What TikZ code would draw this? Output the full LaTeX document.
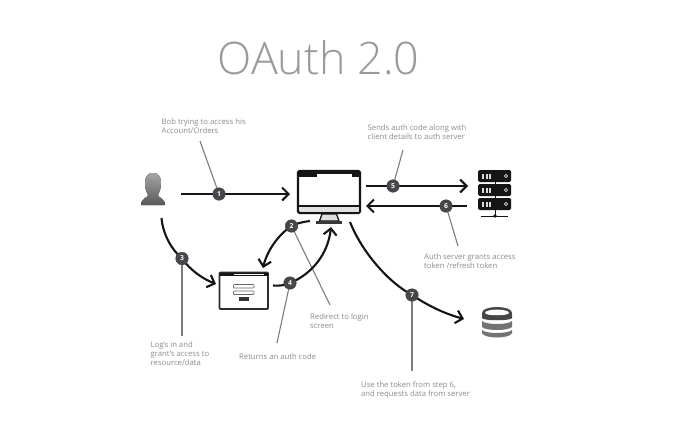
\documentclass[tikz,border=0pt]{standalone}
\usepackage{fontspec}
\setmainfont{Open Sans}
\newfontfamily\titlefont{Open Sans Light}
\usetikzlibrary{arrows.meta,calc}
\definecolor{ink}{HTML}{151515}
\definecolor{badge}{HTML}{45474A}
\definecolor{leader}{HTML}{7D7D7D}
\definecolor{label}{HTML}{8C8C8C}
\definecolor{titlegray}{HTML}{9A9A9A}
\tikzset{
  x=1pt,y=-1pt,
  flow/.style={draw=ink,line width=2.1pt,-{Straight Barb[length=6.5pt,width=13pt,line width=2.1pt]}},
  flowplain/.style={draw=ink,line width=2.1pt},
  leaderline/.style={draw=leader,line width=1.1pt},
  badgenode/.style={circle,fill=badge,draw=ink!80,line width=.5pt,minimum size=12.5pt,inner sep=0pt,text=white,font=\bfseries\fontsize{6.8}{7}\selectfont},
  caption/.style={anchor=north west,align=left,inner sep=0pt,text=label,font=\fontsize{7.7}{9.3}\selectfont},
  anchorpt/.style={inner sep=0pt,minimum size=0pt},
}
\begin{document}
\begin{tikzpicture}
\useasboundingbox (0,0) rectangle (675,434);
\fill[white] (0,0) rectangle (675,434);

\node[text=titlegray,font=\titlefont\fontsize{44.8}{47}\selectfont,inner sep=0pt] (title) at (318.5,58) {OAuth 2.0};

% person
\node[anchorpt,minimum width=26pt,minimum height=34pt] (person) at (153,189) {};
\fill[top color=gray!70,bottom color=black!65] (153,173) .. controls (146,173) and (144.5,179) .. (145,185) .. controls (145.5,190) and (147,193) .. (148,195) .. controls (148,198) and (141,198) .. (141,205) -- (165,205) .. controls (165,198) and (158,198) .. (158,195) .. controls (159,193) and (160.5,190) .. (161,185) .. controls (161.5,179) and (160,173) .. (153,173) -- cycle;

% monitor
\node[anchorpt,minimum width=64pt,minimum height=53pt] (monitor) at (329,196) {};
\filldraw[fill=white,draw=ink,line width=2.2pt,rounded corners=1.5pt] (298,171) rectangle (360,213);
\fill[ink] (298,171) rectangle (360,176.5);
\fill[white] (317,174) rectangle (352,176.6);
\fill[ink] (298,204.5) rectangle (360,207);
\fill[black!12] (299.5,207) rectangle (358.5,211.5);
\filldraw[fill=black!12,draw=ink,line width=1.3pt] (322,214) -- (319.5,221) -- (339,221) -- (336.5,214) -- cycle;
\draw[ink!85,line width=2.4pt] (316,222.5) -- (342,222.5);

% server
\node[anchorpt,minimum width=34pt,minimum height=48pt] (server) at (495,192) {};
\draw[ink,line width=.9pt] (495,182) -- (495,216);
\foreach \yy in {170,184,198}{
  \fill[ink,rounded corners=1.5pt] (478,\yy) rectangle (511,\yy+12);
  \foreach \xx in {482,485.5,489}{\fill[white!85!black] (\xx,\yy+3.5) rectangle +(2,5);}
  \draw[white!85!black,line width=.7pt] (506,\yy+6) circle (1.6pt);
}
\draw[ink,line width=.8pt] (481,216) -- (508,216);
\fill[ink] (495,216) circle (1.8pt);

% login window
\node[anchorpt,minimum width=49pt,minimum height=37pt] (login) at (243.5,290.5) {};
\filldraw[fill=white,draw=ink!90,line width=1.8pt,rounded corners=.8pt] (219.5,272.5) rectangle (268,309);
\fill[ink] (219.5,272.5) rectangle (268,276);
\fill[white] (234,273.6) rectangle (264,275.4);
\draw[black!60,line width=.6pt,rounded corners=.8pt] (233.5,284.5) rectangle (254,288);
\draw[black!60,line width=.6pt,rounded corners=.8pt] (233.5,291) rectangle (254,294.5);
\fill[black!80] (239,297) rectangle (248.5,300.5);

% database
\node[anchorpt,minimum width=30pt,minimum height=30pt] (db) at (497,322) {};
\fill[black!72] (482,313) .. controls (482,305) and (512,305) .. (512,313) -- (512,318) .. controls (512,321) and (482,321) .. (482,318) -- cycle;
\fill[white] (485,313) .. controls (485,308.5) and (509,308.5) .. (509,313) .. controls (509,316) and (485,316) .. (485,313) -- cycle;
\fill[black!55] (482,321) .. controls (486,325) and (508,325) .. (512,321) -- (512,327) .. controls (508,331) and (486,331) .. (482,327) -- cycle;
\fill[black!55] (482,330) .. controls (486,334) and (508,334) .. (512,330) -- (512,333) .. controls (510,339) and (484,339) .. (482,333) -- cycle;

% badge positions
\coordinate (b1) at (219,194);
\coordinate (b2) at (291.5,226);
\coordinate (b3) at (182,258.5);
\coordinate (b4) at (290,283);
\coordinate (b5) at (393,186);
\coordinate (b6) at (446,206);
\coordinate (b7) at (412,295);

% connector ends
\coordinate (s1) at (181,194);
\coordinate (e1) at (290,194);
\coordinate (s2) at (310,221);
\coordinate (e2) at (263,268);
\coordinate (s3) at (161.5,218);
\coordinate (e3) at (216,284);
\coordinate (s4) at (273,285.5);
\coordinate (e4) at (331,227);
\coordinate (s5) at (366,186);
\coordinate (e5) at (468,186);
\coordinate (s6) at (467,206);
\coordinate (e6) at (366,206);
\coordinate (s7) at (350,222);
\coordinate (e7) at (464,319);
\coordinate (l1) at (200,141);
\coordinate (l2) at (330,305);
\coordinate (l3) at (182,336);
\coordinate (l4) at (277,343);
\coordinate (l5) at (403,150);
\coordinate (l6) at (458,246);
\coordinate (l7) at (412,371);

% leaders
\draw[leaderline] (l1) -- (b1);
\draw[leaderline] (l2) -- (b2);
\draw[leaderline] (l3) -- (b3);
\draw[leaderline] (l4) -- (b4);
\draw[leaderline] (l5) -- (b5);
\draw[leaderline] (l6) -- (b6);
\draw[leaderline] (l7) -- (b7);

% flows
\draw[flow] (s1) -- (e1);
\draw[flow] (s5) -- (e5);
\draw[flow] (s6) -- (e6);
\draw[flowplain] (s2) .. controls (302,222) and (296,223.5) .. (b2);
\draw[flow] (b2) .. controls (278,235) and (267,251) .. (e2);
\draw[flowplain] (s3) .. controls (163,235) and (172,250) .. (b3);
\draw[flow] (b3) .. controls (190,270) and (203,279) .. (e3);
\draw[flowplain] (s4) .. controls (279,286) and (284,285.5) .. (b4);
\draw[flow] (b4) .. controls (312,274) and (328,254) .. (e4);
\draw[flow] (s7) .. controls (362,252) and (388,282) .. (b7) .. controls (430,307) and (446,314) .. (e7);

% badges on top
\node[badgenode] (n1) at (b1) {1};
\node[badgenode] (n2) at (b2) {2};
\node[badgenode] (n3) at (b3) {3};
\node[badgenode] (n4) at (b4) {4};
\node[badgenode] (n5) at (b5) {5};
\node[badgenode] (n6) at (b6) {6};
\node[badgenode] (n7) at (b7) {7};

% captions
\node[caption] (c1) at (161.5,118) {Bob trying to access his\\Account/Orders};
\node[caption] (c5) at (367.5,124.5) {Sends auth code along with\\client details to auth server};
\node[caption] (c6) at (424,253.5) {Auth server grants access\\token /refresh token};
\node[caption] (c2) at (310,313) {Redirect to login\\screen};
\node[caption] (c3) at (150.5,341) {Log's in and\\grant's access to\\resource/data};
\node[caption] (c4) at (239,353) {Returns an auth code};
\node[caption] (c7) at (361,381) {Use the token from step 6,\\and requests data from server};
\end{tikzpicture}
\end{document}
